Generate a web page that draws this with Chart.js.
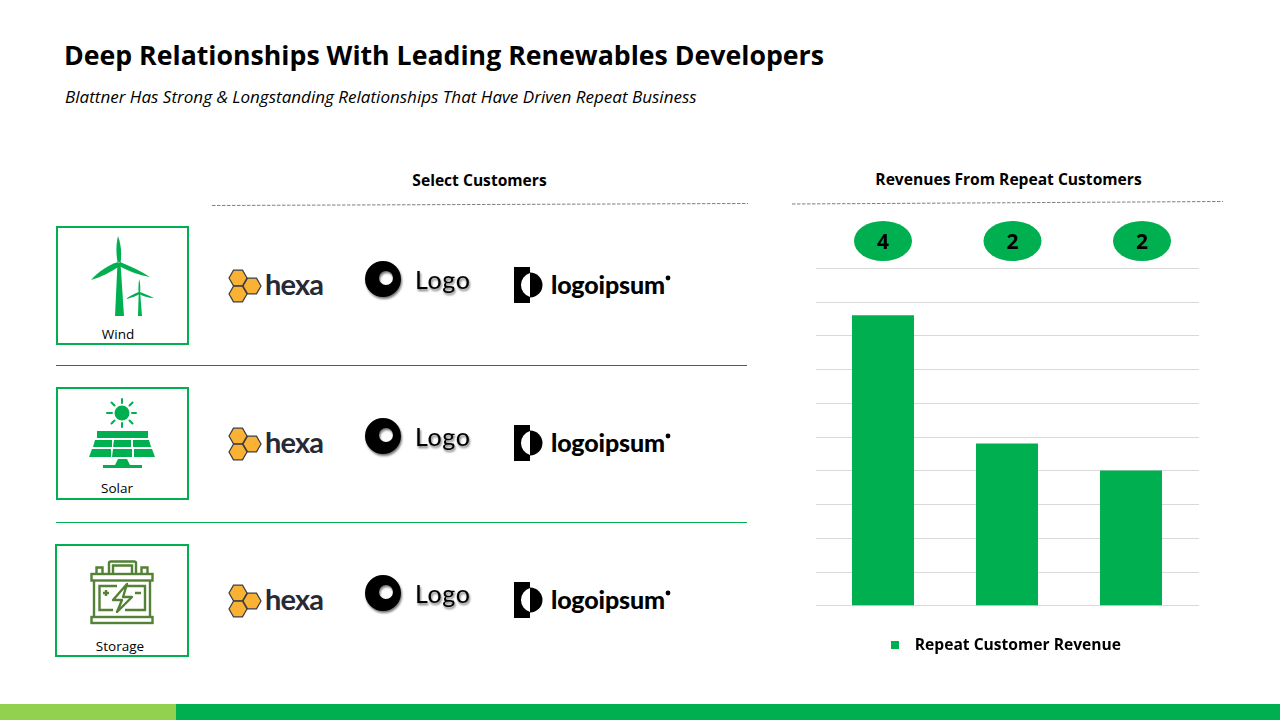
<!DOCTYPE html>
<html>
<head>
<meta charset="utf-8">
<title>Deep Relationships With Leading Renewables Developers</title>
<script src="https://cdn.jsdelivr.net/npm/chart.js@4"></script>
<style>
    html, body { margin: 0; padding: 0; background: #fff; }
    #page { position: relative; width: 1280px; height: 720px; overflow: hidden; font-family: "Open Sans", sans-serif; color: #000; }
    #page svg { position: absolute; left: 0; top: 0; }
    #chartBox { position: absolute; left: 780px; top: 250px; width: 444px; height: 413px; }
    .text { position: absolute; white-space: nowrap; }
    .title { left: 64px; top: 36px; font-size: 26.7px; font-weight: 700; }
    .subtitle { left: 65px; top: 85px; font-size: 17.05px; font-style: italic; }
    .head { font-size: 15.6px; font-weight: 700; text-align: center; transform: translateX(-50%); }
    .sector { font-size: 13.5px; transform: translateX(-50%); }
    .oval { font-size: 21px; font-weight: 700; transform: translate(-50%, -50%); }
</style>
</head>
<body>
<div id="page">
    <svg id="art" width="1280" height="720" xmlns="http://www.w3.org/2000/svg"></svg>
    <div id="chartBox"><canvas id="revenueChart"></canvas></div>
    <div class="text title">Deep Relationships With Leading Renewables Developers</div>
    <div class="text subtitle">Blattner Has Strong &amp; Longstanding Relationships That Have Driven Repeat Business</div>
    <div class="text head" style="left:479.5px;top:169px">Select Customers</div>
    <div class="text head" style="left:1008.5px;top:168px">Revenues From Repeat Customers</div>
</div>
<script>
const categories = ["Customer A", "Customer B", "Customer C"];
const repeatRevenue = [8.6, 4.8, 4.0];
const customerCounts = ["4", "2", "2"];
const seriesName = "Repeat Customer Revenue";
const sectors = ["Wind", "Solar", "Storage"];

const GREEN = "#00B050";
const page = document.getElementById("page");
const art = document.getElementById("art");

const windIcon = `
    <g fill="${GREEN}">
        <path d="M115 316 L117.5 263 L120.5 263 L124 316 Z"/>
        <path d="M118 236 C121 244 122 254 120.5 263 L117.5 262 C116 254 116 244 118 236 Z"/>
        <path d="M120 262 C130 266 141 271 150 277 C139 275 128 271 119 266 Z"/>
        <path d="M118 262 C108 265 98 272 91 280 C101 277 111 272 120 266 Z"/>
        <path d="M138 316 L138.7 293 L140.2 293 L142 316 Z"/>
        <path d="M139.2 279 C140.5 284 140.5 289 140 293 L138.6 293 C138.3 288 138.4 284 139.2 279 Z"/>
        <path d="M140 292 C145 294 150 296 154 298 C148 298 143 296 139 294 Z"/>
        <path d="M138.5 292 C134 294 129 296 126 299 C131 298 136 296 140 294 Z"/>
    </g>`;

const solarIcon = `
    <g fill="${GREEN}">
        <circle cx="122" cy="413" r="7.5"/>
        <g stroke="${GREEN}" stroke-width="2" stroke-linecap="round">
            <path d="M122 399 V403 M122 423 V427 M107 413 H112 M132 413 H136 M111.5 402.5 L114.5 405.5 M129.5 420.5 L132.5 423.5 M111.5 423.5 L114.5 420.5 M129.5 405.5 L132.5 402.5"/>
        </g>
        <rect x="97" y="431" width="51" height="7"/>
        <path d="M95 440 H112 V447 H93 Z M114 440 H131 V447 H113 Z M133 440 H149 L151 447 H133 Z"/>
        <path d="M92 449 H111 V457 H89 Z M113 449 H132 V457 H112 Z M134 449 H152 L155 457 H134 Z"/>
        <path d="M115 465 L118 459 H127 L130 465 H142 V468 H103 V465 Z"/>
    </g>`;

const storageIcon = `
    <g fill="none" stroke="#538135" stroke-width="2.4">
        <rect x="91.5" y="574" width="61" height="6.5"/>
        <rect x="91.5" y="617" width="61" height="6"/>
        <path d="M94 580 V617 M150 580 V617"/>
        <path d="M109 573 V563 Q109 561.5 111 561.5 H134 Q136 561.5 136 563 V573 M113 573 V565.5 H132 V573"/>
        <path d="M96.5 573 V567.5 H102.5 V573 M141.5 573 V567.5 H147.5 V573"/>
        <path d="M117 586 H99.5 V610 H113 M126 586 H145 V610 H125"/>
        <path d="M127 584 L113 600 H122 L117 612 L132 597 H123 Z" stroke-linejoin="round"/>
        <path d="M103 593 H109 M106 590 V596 M135 593 H141"/>
    </g>`;

// one logo strip, drawn at row one and moved down for the others
function logoStrip(hexaDy, logoDy, ipsumDy) {
    const hexCell = (cx, cy) => {
        const r = 9;
        const h = r * 0.866;
        return `<path d="M${cx - r} ${cy} L${cx - r / 2} ${cy - h} H${cx + r / 2} L${cx + r} ${cy} L${cx + r / 2} ${cy + h} H${cx - r / 2} Z" fill="#F9B233" stroke="#3a3a44" stroke-width="1.2"/>`;
    };
    return `
    <g transform="translate(0 ${hexaDy})">
        ${hexCell(238, 278)}${hexCell(252, 286)}${hexCell(238, 294)}
        <text x="265" y="295" font-family="Lato" font-size="29" font-weight="700" fill="#272935" textLength="59" lengthAdjust="spacing">hexa</text>
    </g>
    <g transform="translate(0 ${logoDy})" style="filter:drop-shadow(1px 2px 1.2px rgba(0,0,0,0.55))">
        <path fill-rule="evenodd" d="M401 279 A18 18 0 1 1 365 279 A18 18 0 1 1 401 279 Z M393 278 A7 7 0 1 0 379 278 A7 7 0 1 0 393 278 Z" fill="#000"/>
        <text x="415" y="289" font-family="Lato" font-size="25" font-weight="400" fill="#000" textLength="55" lengthAdjust="spacing">Logo</text>
    </g>
    <g transform="translate(0 ${ipsumDy})">
        <path d="M514 267 H530 V273 A12.5 12.5 0 0 0 530 297 V303 H514 Z" fill="#000"/>
        <path d="M530 272.5 A12.5 12.5 0 0 1 530 297.5 Z" fill="#000"/>
        <text x="551" y="294" font-family="Lato" font-size="25" font-weight="900" fill="#000" textLength="114" lengthAdjust="spacing">logoipsum</text>
        <circle cx="668" cy="278" r="2.4" fill="#000"/>
    </g>`;
}

function drawArt() {
    const sectorBoxes = [
        { x: 57, y: 227, w: 131, h: 117, labelX: 118, labelY: 325, icon: windIcon },
        { x: 57, y: 388, w: 131, h: 111, labelX: 117, labelY: 479, icon: solarIcon },
        { x: 56, y: 545, w: 132, h: 111, labelX: 120, labelY: 637, icon: storageIcon },
    ];
    const ovalCenters = [883, 1012.5, 1142];

    let markup = `
        <line x1="212" y1="205.5" x2="748" y2="203.5" stroke="#808080" stroke-width="1" stroke-dasharray="3.5 1.5"/>
        <line x1="792" y1="204" x2="1223" y2="201.5" stroke="#808080" stroke-width="1" stroke-dasharray="3.5 1.5"/>
        <line x1="56" y1="365.5" x2="747" y2="365.5" stroke="#595959" stroke-width="1"/>
        <line x1="56" y1="522.5" x2="747" y2="522.5" stroke="${GREEN}" stroke-width="1"/>
        <rect x="0" y="704" width="176" height="16" fill="#92D050"/>
        <rect x="176" y="704" width="1104" height="16" fill="${GREEN}"/>`;

    sectorBoxes.forEach((box) => {
        markup += `<rect x="${box.x}" y="${box.y}" width="${box.w}" height="${box.h}" fill="none" stroke="${GREEN}" stroke-width="2"/>${box.icon}`;
    });

    markup += logoStrip(0, 0, 0) + logoStrip(158, 157, 158) + logoStrip(315, 314, 315);

    ovalCenters.forEach((cx) => {
        markup += `<ellipse cx="${cx}" cy="241" rx="29" ry="20" fill="${GREEN}"/>`;
    });
    art.innerHTML = markup;

    sectorBoxes.forEach((box, i) => {
        const label = document.createElement("div");
        label.className = "text sector";
        label.style.left = `${box.labelX}px`;
        label.style.top = `${box.labelY}px`;
        label.textContent = sectors[i];
        page.appendChild(label);
    });
    customerCounts.forEach((count, i) => {
        const label = document.createElement("div");
        label.className = "text oval";
        label.style.left = `${ovalCenters[i]}px`;
        label.style.top = "241px";
        label.textContent = count;
        page.appendChild(label);
    });
}

// gridlines in the reference run a little past the outer bars' slots
const wideGrid = {
    id: "wideGrid",
    beforeDatasetsDraw(chart) {
        const { ctx, chartArea, scales } = chart;
        ctx.save();
        ctx.strokeStyle = "#D9D9D9";
        ctx.lineWidth = 1;
        scales.y.ticks.forEach((tick) => {
            const y = Math.round(scales.y.getPixelForValue(tick.value)) + 0.5;
            ctx.beginPath();
            ctx.moveTo(chartArea.left - 5, y);
            ctx.lineTo(chartArea.right + 6, y);
            ctx.stroke();
        });
        ctx.restore();
    },
};

// legend sits a bit left of the plot centre
const legendNudge = {
    id: "legendNudge",
    afterLayout(chart) {
        chart.legend.left -= 5;
        chart.legend.right -= 5;
    },
};

function setupRevenueChart() {
    const marker = document.createElement("canvas");
    marker.width = 8;
    marker.height = 8;
    const markerCtx = marker.getContext("2d");
    markerCtx.fillStyle = GREEN;
    markerCtx.fillRect(0, 0, 8, 8);

    new Chart(document.getElementById("revenueChart"), {
        type: "bar",
        data: {
            labels: categories,
            datasets: [
                {
                    label: seriesName,
                    data: repeatRevenue,
                    backgroundColor: GREEN,
                    categoryPercentage: 1,
                    barPercentage: 0.5,
                },
            ],
        },
        plugins: [wideGrid, legendNudge],
        options: {
            responsive: true,
            maintainAspectRatio: false,
            animation: false,
            layout: {
                padding: { left: 41, right: 31, top: 18, bottom: 0 },
            },
            scales: {
                x: { display: false },
                y: {
                    display: false,
                    min: 0,
                    max: 10,
                    ticks: { stepSize: 1 },
                    grid: { display: false },
                },
            },
            plugins: {
                tooltip: { enabled: false },
                legend: {
                    position: "bottom",
                    labels: {
                        usePointStyle: true,
                        pointStyle: marker,
                        pointStyleWidth: 24,
                        padding: 32,
                        color: "#000",
                        font: { family: "Open Sans", size: 15.6, weight: "700" },
                    },
                },
            },
        },
    });
}

drawArt();
setupRevenueChart();
</script>
</body>
</html>
